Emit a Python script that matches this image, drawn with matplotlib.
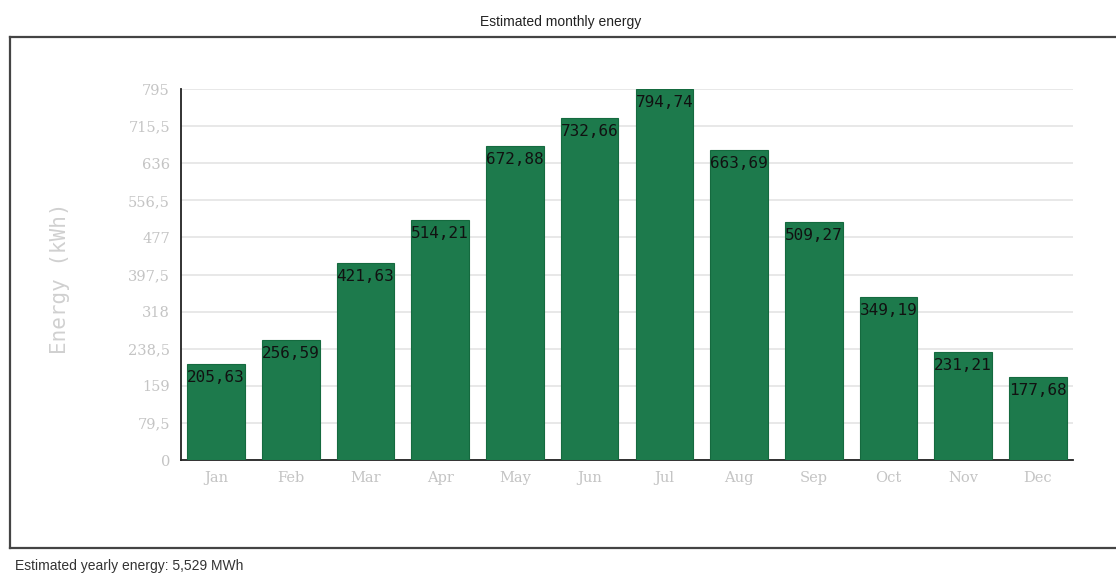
import matplotlib
matplotlib.use("Agg")
import matplotlib.pyplot as plt
from matplotlib.lines import Line2D

months = ["Jan", "Feb", "Mar", "Apr", "May", "Jun", "Jul", "Aug", "Sep", "Oct", "Nov", "Dec"]
energy = [205.63, 256.59, 421.63, 514.21, 672.88, 732.66, 794.74, 663.69, 509.27, 349.19, 231.21, 177.68]
yticks = [0, 79.5, 159, 238.5, 318, 397.5, 477, 556.5, 636, 715.5, 795]
ytick_labels = ["0", "79,5", "159", "238,5", "318", "397,5", "477", "556,5", "636", "715,5", "795"]

fig = plt.figure(figsize=(11.16, 5.77), dpi=100)
ax = fig.add_axes([181 / 1116, 117 / 577, 892 / 1116, 371 / 577])

x = list(range(len(months)))
bars = ax.bar(x, energy, width=0.77, color="#1d7a4c", edgecolor="#156a3f", linewidth=0.8, zorder=3)

# valeurs dans les barres, format à virgule
for bar, v in zip(bars, energy):
    ax.annotate(f"{v:.2f}".replace(".", ","),
                xy=(bar.get_x() + bar.get_width() / 2, v),
                xytext=(0, -4), textcoords="offset points",
                ha="center", va="top", fontsize=11.5, family="DejaVu Sans Mono",
                color="#111111", zorder=4)

ax.set_xlim(-0.47, 11.47)
ax.set_ylim(0, 795)
ax.set_yticks(yticks)
ax.set_yticklabels(ytick_labels)
ax.set_xticks(x)
ax.set_xticklabels(months)
ax.grid(axis="y", color="#e4e4e4", linewidth=1.2, zorder=0)
ax.tick_params(axis="both", colors="#d0d0d0", labelcolor="#c4c4c4", labelsize=10.5, length=0, pad=8)
for lbl in ax.get_xticklabels() + ax.get_yticklabels():
    lbl.set_family("DejaVu Serif")
ax.spines["top"].set_visible(False)
ax.spines["right"].set_visible(False)
ax.spines["left"].set_color("#222222")
ax.spines["bottom"].set_color("#222222")
ax.spines["left"].set_linewidth(1.3)
ax.spines["bottom"].set_linewidth(1.3)
ax.set_ylabel("Energy (kWh)", color="#d0d0d0", fontsize=15, family="DejaVu Sans Mono")
ax.yaxis.set_label_coords(-0.125, 0.49)

# cadre extérieur (sans bord droit)
y0, y1 = 29 / 577, 540 / 577
x0 = 10 / 1116
for seg in [([x0, 1.0], [y1, y1]), ([x0, 1.0], [y0, y0]), ([x0, x0], [y0, y1])]:
    fig.add_artist(Line2D(seg[0], seg[1], color="#444444", linewidth=1.6, transform=fig.transFigure))

fig.text(0.502, 1 - 22 / 577, "Estimated monthly energy", ha="center", va="center",
         fontsize=10, family="Liberation Sans", color="#222222")
fig.text(15 / 1116, 1 - 566 / 577, "Estimated yearly energy: 5,529 MWh", ha="left", va="center",
         fontsize=10, family="Liberation Sans", color="#333333")

fig.savefig("out.png", dpi=100, facecolor="white")
